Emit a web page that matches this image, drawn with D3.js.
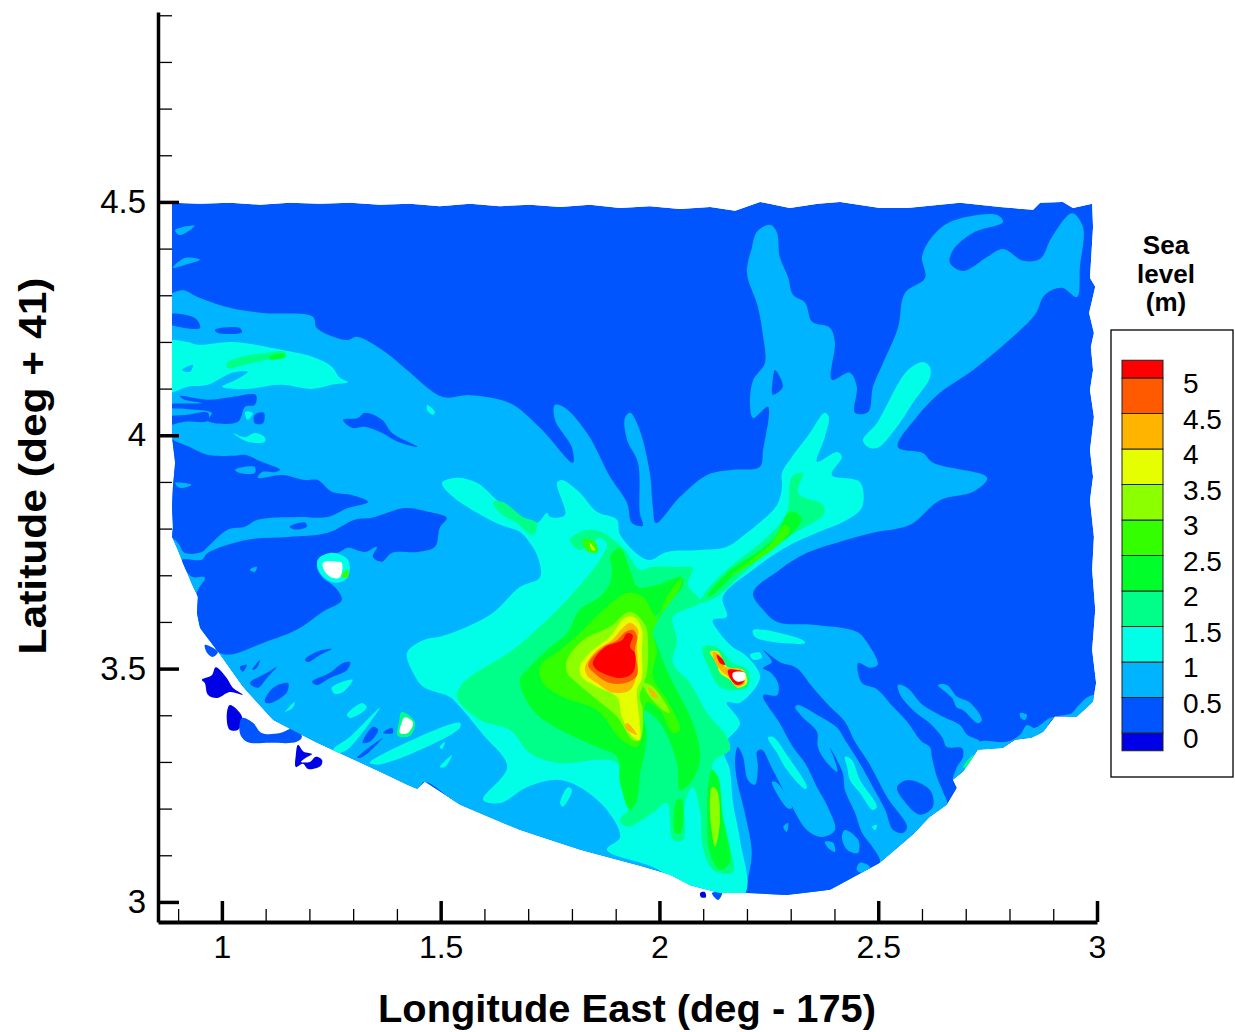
<!DOCTYPE html>
<html>
<head>
<meta charset="utf-8">
<style>
  html, body { margin: 0; padding: 0; background: #fff; }
  svg { display: block; font-family: "Liberation Sans", Arial, sans-serif; }
</style>
<script src="https://cdn.jsdelivr.net/npm/d3@7"></script>
</head>
<body>
<svg id="chart" width="1235" height="1032"></svg>
<script>
// sea level contour bands. rings are [lon, lat]
const legendLevels = [0, 0.5, 1, 1.5, 2, 2.5, 3, 3.5, 4, 4.5, 5];
const bandColors = ["#0000e6", "#0055ff", "#00b4ff", "#00ffe6", "#00ff88", "#00ff2a", "#33ff00", "#8cff00", "#e6ff00", "#ffb400", "#ff5a00", "#ff0000"];
const xMajor = [1, 1.5, 2, 2.5, 3];
const xMinor = [0.9, 1.1, 1.2, 1.3, 1.4, 1.6, 1.7, 1.8, 1.9, 2.1, 2.2, 2.3, 2.4, 2.6, 2.7, 2.8, 2.9];
const yMajor = [3, 3.5, 4, 4.5];
const yMinor = [3.1, 3.2, 3.3, 3.4, 3.6, 3.7, 3.8, 3.9, 4.1, 4.2, 4.3, 4.4, 4.6, 4.7, 4.8, 4.9];

// grid outline
const northEdge = [[.886,4.498],[.950,4.496],[1.018,4.498],[1.087,4.494],[1.155,4.498],[1.224,4.496],[1.293,4.498],[1.361,4.494],[1.430,4.496],[1.498,4.491],[1.567,4.496],[1.635,4.491],[1.704,4.494],[1.773,4.489],[1.841,4.494],[1.910,4.487],[1.978,4.491],[2.047,4.485],[2.116,4.489],[2.173,4.481],[2.230,4.500],[2.298,4.487],[2.362,4.496],[2.413,4.500],[2.504,4.487],[2.566,4.487],[2.687,4.498],[2.778,4.489],[2.854,4.483],[2.870,4.498],[2.922,4.500],[2.945,4.487],[2.989,4.496]];
const eastEdge = [[2.991,4.446],[2.984,4.337],[2.996,4.318],[2.982,4.262],[2.993,4.219],[2.986,4.189],[2.991,4.140],[2.984,4.097],[2.993,4.039],[2.984,3.968],[2.991,3.911],[2.984,3.861],[2.993,3.782],[2.989,3.712],[2.996,3.626],[2.989,3.540],[2.998,3.469],[2.991,3.429],[2.954,3.397],[2.904,3.397],[2.877,3.364],[2.851,3.352],[2.813,3.347],[2.785,3.330],[2.728,3.326],[2.694,3.279],[2.671,3.262],[2.680,3.244]];
const coast = [[2.657,3.208],[2.618,3.182],[2.579,3.144],[2.504,3.084],[2.465,3.064],[2.390,3.026],[2.291,3.015],[2.200,3.019],[2.138,3.019],[2.070,3.036],[2.024,3.058],[1.956,3.077],[1.818,3.112],[1.681,3.154],[1.544,3.208],[1.464,3.257],[1.446,3.242],[1.423,3.251],[1.368,3.276],[1.217,3.341],[1.117,3.390],[1.048,3.461],[.991,3.536],[.950,3.587],[.943,3.619],[.945,3.654],[.934,3.675],[.911,3.726],[.899,3.754],[.886,3.782],[.888,3.804],[.886,3.847],[.888,3.889],[.893,3.941],[.886,3.996]];
const spike = [[2.120,3.019],[2.134,3.004],[2.143,3.019]];

// 0.5-1 m, main body
const midNorth = [[.886,4.305],[.911,4.311],[.950,4.294],[1.018,4.273],[1.094,4.262],[1.208,4.254],[1.217,4.230],[1.286,4.204],[1.309,4.211],[1.377,4.176],[1.423,4.140],[1.505,4.082],[1.567,4.086],[1.658,4.069],[1.727,4.016],[1.802,3.941],[1.800,3.973],[1.761,4.033],[1.761,4.065],[1.784,4.059],[1.837,4.001],[1.887,3.911],[1.926,3.855],[1.937,3.812],[1.962,3.806],[1.955,3.834],[1.951,3.941],[1.926,3.990],[1.921,4.037],[1.933,4.048],[1.955,4.011],[1.978,3.919],[1.985,3.846],[1.992,3.812],[2.047,3.868],[2.109,3.915],[2.168,3.926],[2.229,3.932],[2.237,3.969],[2.248,4.061],[2.214,4.037],[2.207,4.069],[2.214,4.118],[2.241,4.155],[2.237,4.211],[2.225,4.275],[2.200,4.348],[2.211,4.401],[2.223,4.436],[2.252,4.451],[2.268,4.436],[2.275,4.382],[2.294,4.339],[2.305,4.301],[2.333,4.284],[2.349,4.243],[2.390,4.230],[2.401,4.198],[2.394,4.119],[2.435,4.134],[2.451,4.104],[2.447,4.048],[2.477,4.050],[2.488,4.104],[2.511,4.155],[2.545,4.230],[2.561,4.305],[2.607,4.337],[2.600,4.382],[2.618,4.419],[2.664,4.457],[2.772,4.472],[2.785,4.457],[2.717,4.434],[2.671,4.397],[2.664,4.369],[2.694,4.352],[2.749,4.382],[2.785,4.399],[2.831,4.374],[2.870,4.378],[2.897,4.425],[2.943,4.476],[2.968,4.446],[2.961,4.361],[2.954,4.296],[2.920,4.316],[2.881,4.301],[2.858,4.258],[2.794,4.200],[2.717,4.140],[2.641,4.091],[2.588,4.039],[2.545,3.975],[2.602,3.962],[2.625,3.941],[2.749,3.909],[2.717,3.879],[2.641,3.861],[2.573,3.808],[2.488,3.791],[2.413,3.772],[2.337,3.748],[2.275,3.712],[2.214,3.662],[2.237,3.626],[2.269,3.600],[2.351,3.594],[2.451,3.579],[2.474,3.557],[2.499,3.508],[2.481,3.502],[2.454,3.512],[2.463,3.469],[2.497,3.456],[2.534,3.418],[2.566,3.386],[2.600,3.343],[2.618,3.332],[2.623,3.309],[2.634,3.268],[2.648,3.236]];
const midWestEdge = [[.86,3.996],[.86,4.305]];

// 0-0.5 m patches laid over the main body
const lowFingers = [[2.237,3.540],[2.275,3.514],[2.314,3.501],[2.351,3.459],[2.390,3.418],[2.424,3.386],[2.447,3.343],[2.481,3.294],[2.520,3.225],[2.566,3.161],[2.557,3.148],[2.534,3.154],[2.516,3.197],[2.488,3.246],[2.458,3.297],[2.424,3.347],[2.406,3.373],[2.360,3.401],[2.317,3.422],[2.310,3.418],[2.326,3.397],[2.360,3.365],[2.362,3.332],[2.383,3.298],[2.406,3.279],[2.404,3.294],[2.390,3.330],[2.419,3.276],[2.424,3.240],[2.447,3.191],[2.463,3.148],[2.488,3.116],[2.504,3.086],[2.481,3.064],[2.451,3.047],[2.390,3.026],[2.291,3.015],[2.200,3.019],[2.200,3.036],[2.211,3.105],[2.195,3.191],[2.177,3.262],[2.173,3.305],[2.179,3.332],[2.191,3.311],[2.202,3.262],[2.218,3.251],[2.225,3.289],[2.223,3.322],[2.234,3.326],[2.259,3.283],[2.298,3.213],[2.337,3.154],[2.371,3.139],[2.401,3.154],[2.385,3.203],[2.360,3.246],[2.333,3.297],[2.305,3.332],[2.275,3.383],[2.237,3.443],[2.269,3.443],[2.271,3.469],[2.252,3.493],[2.237,3.501],[2.257,3.514]];
const lowSE = [[2.543,3.246],[2.566,3.261],[2.618,3.240],[2.625,3.204],[2.595,3.187],[2.557,3.219]];
const lowHole = [[2.264,4.140],[2.282,4.104],[2.259,4.087],[2.259,4.119]];
const lowA = [[.904,4.084],[.968,4.076],[1.023,4.082],[1.078,4.086],[1.075,4.065],[1.053,4.061],[1.037,4.029],[.968,4.031],[.977,4.048],[.922,4.056],[.87,4.061],[.87,4.065],[.954,4.069],[.915,4.076]];
const lowB = [[.87,4.037],[.922,4.044],[.968,4.048],[.968,4.031],[.915,4.029],[.87,4.022]];
const lowC = [[1.075,4.044],[1.096,4.048],[1.094,4.026],[1.075,4.026]];
const lowTop1 = [[.87,4.258],[.939,4.251],[.950,4.230],[.87,4.243]];
const lowTop2 = [[.984,4.226],[1.041,4.230],[1.046,4.221],[.991,4.219]];
const lowWest = [[.87,3.990],[.915,3.979],[.968,3.958],[1.023,3.956],[1.053,3.958],[1.091,3.943],[1.133,3.926],[1.121,3.921],[1.091,3.921],[1.082,3.909],[1.137,3.915],[1.190,3.904],[1.219,3.904],[1.251,3.879],[1.297,3.872],[1.334,3.857],[1.288,3.844],[1.242,3.825],[1.174,3.825],[1.082,3.819],[1.053,3.804],[1.014,3.798],[.968,3.761],[.954,3.750],[.915,3.748],[.899,3.770],[.87,3.798],[.87,3.847]];
const lowSouthWest = [[1.418,3.844],[1.471,3.836],[1.514,3.823],[1.498,3.802],[1.487,3.761],[1.448,3.750],[1.389,3.748],[1.366,3.729],[1.345,3.739],[1.354,3.761],[1.327,3.750],[1.288,3.759],[1.265,3.748],[1.224,3.739],[1.217,3.718],[1.229,3.696],[1.258,3.675],[1.274,3.647],[1.229,3.621],[1.171,3.583],[1.094,3.555],[1.018,3.530],[.991,3.536],[.943,3.604],[.943,3.663],[.961,3.695],[.931,3.697],[.909,3.733],[.954,3.733],[.968,3.748],[1.059,3.776],[1.151,3.782],[1.242,3.791],[1.304,3.819],[1.343,3.823]];
const lowStrip = [[1.155,3.804],[1.190,3.813],[1.194,3.804],[1.167,3.798]];
const lowLens = [[1.277,4.033],[1.311,4.037],[1.327,4.048],[1.366,4.033],[1.389,4.005],[1.448,3.975],[1.402,3.986],[1.366,4.005],[1.327,4.018],[1.297,4.016]];
const lowBits = [
  [[1.206,3.472],[1.247,3.491],[1.277,3.512],[1.293,3.514],[1.286,3.497],[1.247,3.480],[1.217,3.465]],
  [[1.064,3.469],[1.103,3.491],[1.126,3.504],[1.103,3.480],[1.082,3.459]],
  [[1.098,3.429],[1.117,3.459],[1.151,3.469],[1.149,3.450],[1.110,3.426]],
  [[1.190,3.519],[1.217,3.536],[1.251,3.542],[1.224,3.529],[1.197,3.514]],
  [[1.041,3.504],[1.057,3.508],[1.048,3.493]],
  [[1.069,3.497],[1.087,3.519],[1.080,3.502]],
  [[1.322,3.341],[1.345,3.375],[1.357,3.369],[1.338,3.343]],
  [[1.309,3.309],[1.368,3.352],[1.322,3.311]],
  [[1.368,3.362],[1.389,3.373],[1.391,3.362]]
];

// 0.5-1 m pieces on top of the low patches
const midStreak1 = [[2.545,3.465],[2.566,3.459],[2.602,3.422],[2.648,3.397],[2.687,3.379],[2.703,3.358],[2.733,3.343],[2.728,3.326],[2.710,3.289],[2.694,3.279],[2.671,3.262],[2.680,3.289],[2.694,3.311],[2.691,3.330],[2.657,3.332],[2.646,3.353],[2.618,3.383],[2.584,3.407],[2.550,3.444]];
const midStreak2 = [[2.637,3.465],[2.657,3.465],[2.680,3.440],[2.710,3.427],[2.737,3.390],[2.728,3.383],[2.694,3.411],[2.680,3.416],[2.669,3.437]];
const midCoast = [[2.733,3.343],[2.794,3.343],[2.824,3.358],[2.840,3.379],[2.858,3.373],[2.893,3.394],[2.943,3.405],[2.954,3.417],[2.979,3.439],[2.993,3.443],[2.991,3.429],[2.954,3.397],[2.904,3.397],[2.877,3.364],[2.851,3.352],[2.813,3.347],[2.785,3.330],[2.728,3.326]];
const midBits = [
  [[2.824,3.405],[2.840,3.401],[2.835,3.390],[2.826,3.394]],
  [[2.424,3.154],[2.454,3.133],[2.454,3.105],[2.429,3.112],[2.417,3.139]],
  [[2.458,3.084],[2.481,3.075],[2.465,3.062],[2.451,3.069]],
  [[2.257,3.257],[2.269,3.255],[2.303,3.202],[2.294,3.200]],
  [[2.283,3.161],[2.294,3.169],[2.291,3.150]],
  [[2.378,3.129],[2.397,3.127],[2.401,3.107],[2.385,3.116]],
  [[.893,4.440],[.938,4.449],[.904,4.429]],
  [[.888,4.359],[.915,4.380],[.950,4.376],[.915,4.365]],
  [[1.030,3.926],[1.075,3.932],[1.075,3.919],[1.041,3.919]],
  [[.893,3.898],[.931,3.894],[.904,3.887]],
  [[1.064,3.712],[1.080,3.718],[1.075,3.707]]
];

// 1-1.5 m
const cyanCentral = [[1.503,3.898],[1.537,3.909],[1.583,3.898],[1.629,3.861],[1.670,3.834],[1.720,3.812],[1.743,3.834],[1.750,3.825],[1.784,3.829],[1.766,3.898],[1.777,3.904],[1.818,3.877],[1.857,3.836],[1.903,3.819],[1.910,3.787],[1.974,3.733],[2.017,3.750],[2.093,3.754],[2.154,3.761],[2.200,3.791],[2.223,3.808],[2.269,3.851],[2.280,3.889],[2.280,3.919],[2.303,3.954],[2.344,4.005],[2.378,4.048],[2.387,4.039],[2.378,3.996],[2.360,3.943],[2.406,3.964],[2.417,3.954],[2.394,3.915],[2.458,3.900],[2.463,3.846],[2.429,3.819],[2.360,3.791],[2.291,3.761],[2.214,3.712],[2.145,3.654],[2.154,3.611],[2.122,3.604],[2.138,3.576],[2.168,3.546],[2.195,3.530],[2.230,3.482],[2.184,3.427],[2.154,3.427],[2.184,3.383],[2.145,3.332],[2.161,3.283],[2.168,3.213],[2.184,3.133],[2.195,3.019],[2.093,3.021],[1.985,3.075],[1.880,3.112],[1.910,3.139],[1.880,3.197],[1.818,3.246],[1.766,3.262],[1.697,3.246],[1.636,3.212],[1.597,3.219],[1.652,3.289],[1.597,3.358],[1.544,3.418],[1.521,3.439],[1.460,3.461],[1.437,3.491],[1.423,3.534],[1.460,3.561],[1.498,3.568],[1.544,3.583],[1.619,3.619],[1.681,3.675],[1.727,3.696],[1.722,3.739],[1.704,3.769],[1.681,3.793],[1.636,3.808],[1.583,3.834],[1.528,3.868]];
const cyanNW = [[.87,4.200],[.922,4.200],[.945,4.194],[1.023,4.200],[1.137,4.183],[1.213,4.166],[1.251,4.147],[1.270,4.123],[1.288,4.114],[1.251,4.108],[1.206,4.099],[1.137,4.108],[1.053,4.099],[1.000,4.104],[1.030,4.118],[1.059,4.136],[1.023,4.134],[.968,4.108],[.922,4.104],[.87,4.091]];
const cyanNE = [[2.602,4.157],[2.618,4.147],[2.618,4.123],[2.579,4.069],[2.543,4.018],[2.499,3.973],[2.477,3.975],[2.465,3.990],[2.497,4.026],[2.522,4.069],[2.550,4.118],[2.573,4.144]];
const midInCyan = [[.909,4.140],[.934,4.151],[.927,4.136]];
const cyanBits = [
  [[1.469,4.065],[1.487,4.050],[1.482,4.044],[1.469,4.054]],
  [[1.025,4.005],[1.053,3.996],[1.075,4.005],[1.098,3.996],[1.098,3.986],[1.059,3.986]],
  [[1.053,4.050],[1.071,4.048],[1.059,4.033]],
  [[1.254,3.326],[1.293,3.354],[1.361,3.416],[1.338,3.384],[1.286,3.326],[1.263,3.319]],
  [[1.338,3.298],[1.400,3.332],[1.544,3.384],[1.544,3.373],[1.437,3.319],[1.354,3.294]],
  [[1.251,3.459],[1.299,3.476],[1.277,3.450],[1.258,3.446]],
  [[1.286,3.401],[1.322,3.426],[1.331,3.416],[1.293,3.394]],
  [[1.144,3.407],[1.167,3.429],[1.162,3.416]],
  [[2.214,3.583],[2.328,3.561],[2.333,3.555],[2.259,3.557],[2.218,3.568]],
  [[2.207,3.530],[2.230,3.534],[2.234,3.523],[2.214,3.519]],
  [[2.248,3.352],[2.259,3.354],[2.294,3.311],[2.337,3.246],[2.333,3.242],[2.291,3.283],[2.269,3.319]],
  [[2.424,3.311],[2.440,3.304],[2.458,3.262],[2.497,3.204],[2.488,3.197],[2.458,3.234],[2.435,3.262],[2.429,3.289]],
  [[2.486,3.161],[2.497,3.165],[2.493,3.154]],
  [[1.219,3.733],[1.251,3.748],[1.288,3.733],[1.288,3.696],[1.258,3.684],[1.224,3.705]],
  [[1.773,3.212],[1.791,3.246],[1.800,3.240],[1.779,3.204]],
  [[1.498,3.289],[1.526,3.315],[1.510,3.289]],
  [[1.498,3.332],[1.510,3.343],[1.503,3.327]]
];

// 1.5-2 m
const seaMain = [[1.800,3.782],[1.834,3.797],[1.871,3.791],[1.894,3.776],[1.921,3.754],[1.955,3.712],[1.985,3.718],[2.047,3.718],[2.076,3.716],[2.065,3.679],[2.093,3.643],[2.031,3.611],[2.040,3.561],[2.031,3.512],[2.070,3.469],[2.109,3.405],[2.154,3.354],[2.161,3.326],[2.122,3.298],[2.138,3.212],[2.161,3.118],[2.168,3.063],[2.122,3.069],[2.099,3.118],[2.093,3.197],[2.076,3.246],[2.058,3.212],[2.054,3.133],[2.031,3.133],[2.017,3.212],[1.985,3.191],[1.926,3.161],[1.910,3.176],[1.933,3.204],[1.903,3.298],[1.766,3.298],[1.704,3.319],[1.658,3.369],[1.590,3.390],[1.537,3.439],[1.551,3.469],[1.665,3.540],[1.727,3.590],[1.795,3.654],[1.864,3.733],[1.880,3.769],[1.864,3.780],[1.818,3.754],[1.795,3.776]];
const seaArm = [[2.093,3.641],[2.109,3.669],[2.154,3.712],[2.246,3.782],[2.291,3.834],[2.303,3.911],[2.328,3.919],[2.317,3.876],[2.374,3.851],[2.374,3.829],[2.328,3.801],[2.282,3.776],[2.200,3.712],[2.131,3.654]];
const seaLeftArm = [[1.620,3.857],[1.642,3.857],[1.688,3.825],[1.720,3.812],[1.711,3.786],[1.674,3.812],[1.635,3.834]];
const seaSpot = [[2.099,3.546],[2.131,3.546],[2.168,3.512],[2.202,3.497],[2.202,3.461],[2.177,3.454],[2.138,3.461],[2.115,3.497]];
const seaNW = [[1.011,4.155],[1.053,4.170],[1.098,4.176],[1.144,4.179],[1.144,4.166],[1.098,4.161],[1.053,4.151],[1.014,4.144]];
const seaBits = [
  [[2.694,3.289],[2.717,3.315],[2.710,3.289]],
  [[1.411,3.407],[1.441,3.386],[1.430,3.356],[1.402,3.356],[1.405,3.386]]
];

// 2-2.5 m
const greenMain = [[1.887,3.739],[1.910,3.759],[1.933,3.712],[1.951,3.675],[1.994,3.679],[2.051,3.696],[2.054,3.679],[2.006,3.626],[1.974,3.590],[1.990,3.561],[2.017,3.497],[2.031,3.469],[2.076,3.384],[2.093,3.311],[2.076,3.262],[2.047,3.240],[2.040,3.298],[2.001,3.384],[1.962,3.411],[1.971,3.354],[1.955,3.268],[1.949,3.219],[1.933,3.197],[1.910,3.255],[1.903,3.311],[1.857,3.332],[1.773,3.369],[1.711,3.411],[1.681,3.476],[1.704,3.504],[1.750,3.546],[1.789,3.576],[1.818,3.626],[1.864,3.654],[1.887,3.684],[1.891,3.718]];
const greenStreak = [[2.120,3.283],[2.134,3.268],[2.145,3.182],[2.161,3.084],[2.138,3.069],[2.115,3.105],[2.109,3.204],[2.111,3.246]];
const greenFinger = [[2.040,3.219],[2.051,3.219],[2.049,3.148],[2.036,3.148]];
const greenArm = [[2.109,3.654],[2.154,3.705],[2.259,3.776],[2.298,3.836],[2.325,3.823],[2.305,3.791],[2.252,3.754],[2.184,3.712],[2.122,3.659]];
const greenNW = [[1.110,4.170],[1.144,4.174],[1.144,4.168],[1.110,4.163]];

// 2.5-3 m
const limeMain = [[1.864,3.619],[1.926,3.662],[1.962,3.654],[1.994,3.611],[2.017,3.654],[2.051,3.694],[2.047,3.673],[2.001,3.611],[1.985,3.576],[1.994,3.540],[1.985,3.482],[2.017,3.433],[2.047,3.369],[2.031,3.362],[2.001,3.411],[1.971,3.427],[1.962,3.362],[1.949,3.332],[1.914,3.347],[1.857,3.411],[1.779,3.439],[1.734,3.469],[1.727,3.504],[1.773,3.540],[1.818,3.576]];
const limeArm = [[2.252,3.765],[2.287,3.808],[2.298,3.797],[2.264,3.759],[2.154,3.694]];
const limeBlob = [[1.825,3.776],[1.853,3.772],[1.859,3.750],[1.837,3.750]];
const limeW1 = [[1.277,3.705],[1.288,3.712],[1.288,3.696],[1.274,3.696]];

// 3-3.5 m
const yellowGreen = [[1.789,3.519],[1.825,3.561],[1.887,3.590],[1.933,3.622],[1.967,3.594],[1.974,3.555],[1.971,3.491],[1.955,3.439],[1.962,3.411],[1.955,3.347],[1.939,3.347],[1.903,3.397],[1.857,3.433],[1.812,3.469],[1.789,3.491]];
const yellowGreenStreak1 = [[1.962,3.469],[1.985,3.461],[2.024,3.405],[2.008,3.411],[1.971,3.448]];
const yellowGreenStreak2 = [[2.120,3.246],[2.131,3.240],[2.138,3.169],[2.127,3.118],[2.120,3.148],[2.115,3.212]];

// 3.5-4 m
const yellowMain = [[1.818,3.504],[1.841,3.534],[1.887,3.568],[1.921,3.609],[1.944,3.609],[1.960,3.583],[1.960,3.540],[1.960,3.480],[1.949,3.454],[1.955,3.384],[1.955,3.347],[1.939,3.354],[1.914,3.397],[1.903,3.439],[1.857,3.461],[1.823,3.482]];
const yellowBlob = [[1.841,3.769],[1.853,3.754],[1.846,3.754]];
const yellowSpot = [[2.115,3.536],[2.134,3.536],[2.154,3.504],[2.191,3.497],[2.200,3.469],[2.179,3.459],[2.161,3.476],[2.138,3.491],[2.131,3.512]];

// 4-4.5 m
const amberMain = [[1.830,3.504],[1.857,3.540],[1.891,3.561],[1.916,3.587],[1.933,3.598],[1.951,3.583],[1.949,3.555],[1.949,3.491],[1.933,3.454],[1.894,3.448],[1.857,3.469],[1.834,3.486]];
const amberBit1 = [[1.926,3.384],[1.949,3.358],[1.937,3.362],[1.921,3.375]];
const amberBit2 = [[1.974,3.461],[1.997,3.439],[1.985,3.439]];
const amberSpot = [[2.122,3.536],[2.138,3.530],[2.150,3.504],[2.188,3.497],[2.195,3.469],[2.177,3.461],[2.161,3.480],[2.143,3.493],[2.127,3.514]];

// 4.5-5 m and above 5 m
const orangeMain = [[1.837,3.508],[1.871,3.546],[1.903,3.561],[1.921,3.578],[1.939,3.583],[1.949,3.568],[1.944,3.540],[1.949,3.486],[1.921,3.469],[1.887,3.469],[1.857,3.486]];
const redMain = [[1.848,3.514],[1.875,3.546],[1.914,3.561],[1.926,3.576],[1.939,3.572],[1.933,3.546],[1.944,3.533],[1.939,3.491],[1.914,3.480],[1.882,3.486],[1.853,3.501]];
const redSpot1 = [[2.131,3.530],[2.145,3.519],[2.150,3.508],[2.138,3.512]];
const redSpot2 = [[2.157,3.497],[2.177,3.497],[2.195,3.491],[2.191,3.469],[2.177,3.465],[2.161,3.480]];

// islands, below 0 m and 0-0.5 m
const islandA = [[.986,3.503],[1.011,3.480],[1.025,3.459],[1.048,3.444],[1.018,3.450],[.989,3.437],[.968,3.444],[.961,3.469],[.954,3.476],[.977,3.486]];
const islandB = [[.961,3.551],[.991,3.536],[.979,3.525],[.966,3.534]];
const islandC = [[1.018,3.422],[1.046,3.397],[1.037,3.369],[1.018,3.369],[1.011,3.397]];
const islandD = [[1.046,3.394],[1.071,3.384],[1.091,3.362],[1.133,3.362],[1.167,3.373],[1.183,3.354],[1.171,3.343],[1.110,3.341],[1.057,3.343],[1.041,3.362]];
const islandE = [[1.174,3.337],[1.187,3.322],[1.206,3.317],[1.192,3.309],[1.181,3.300],[1.201,3.300],[1.215,3.311],[1.229,3.304],[1.226,3.292],[1.197,3.285],[1.185,3.296],[1.169,3.289],[1.169,3.315]];
const islandF = [[2.093,3.019],[2.104,3.021],[2.106,3.010],[2.095,3.010]];

// holes in the grid
const holeWest = [[1.231,3.727],[1.263,3.729],[1.274,3.727],[1.270,3.696],[1.254,3.694],[1.236,3.707]];
const holeCoast = [[1.418,3.396],[1.437,3.384],[1.425,3.362],[1.407,3.362],[1.411,3.384]];
const holeSpot = [[2.168,3.491],[2.195,3.491],[2.195,3.476],[2.179,3.472],[2.168,3.480]];

const svg = d3.select("#chart");

const x = d3.scaleLinear().domain([0.854, 3]).range([158, 1097]);
const y = d3.scaleLinear().domain([2.957, 4.907]).range([922, 12]);

const ring = d3.line().x(d => x(d[0])).y(d => y(d[1])).curve(d3.curveCatmullRomClosed.alpha(0.5));
const outline = d3.line().x(d => x(d[0])).y(d => y(d[1])).curve(d3.curveLinearClosed);
const gridRing = northEdge.concat(eastEdge, coast);

svg.append("clipPath").attr("id", "grid-clip").append("path").attr("d", outline(gridRing));

const outside = svg.append("g");
const plot = svg.append("g").attr("class", "plot-area").attr("clip-path", "url(#grid-clip)");

function band(g, rings, i) {
  g.selectAll(null).data(rings).join("path")
    .attr("d", ring)
    .attr("fill", i < 0 ? "#fff" : bandColors[i]);
}

band(outside, [islandA, islandC, islandE, islandF], 0);
band(outside, [islandB, islandD, spike], 1);
plot.append("path").attr("fill", bandColors[1]).attr("d", outline(gridRing));
band(plot, [midNorth.concat(coast, midWestEdge)], 2);
band(plot, [lowFingers, lowSE, lowHole, lowA, lowB, lowC, lowTop1, lowTop2, lowWest, lowSouthWest, lowStrip, lowLens].concat(lowBits), 1);
band(plot, [midStreak1, midStreak2, midCoast].concat(midBits), 2);
band(plot, [cyanCentral, cyanNW, cyanNE].concat(cyanBits), 3);
band(plot, [midInCyan], 2);
band(plot, [seaMain, seaArm, seaLeftArm, seaSpot, seaNW].concat(seaBits), 4);
band(plot, [greenMain, greenStreak, greenFinger, greenArm, greenNW], 5);
band(plot, [limeMain, limeArm, limeBlob, limeW1], 6);
band(plot, [yellowGreen, yellowGreenStreak1, yellowGreenStreak2], 7);
band(plot, [yellowMain, yellowBlob, yellowSpot], 8);
band(plot, [amberMain, amberBit1, amberBit2, amberSpot], 9);
band(plot, [orangeMain], 10);
band(plot, [redMain, redSpot1, redSpot2], 11);
band(plot, [holeWest, holeCoast, holeSpot], -1);

// axes
const xAxisG = svg.append("g").attr("transform", "translate(0,922)");
const yAxisG = svg.append("g").attr("transform", "translate(158,0)");

xAxisG.append("g").call(d3.axisBottom(x).tickValues(xMinor).tickSize(-13).tickFormat(""))
  .call(g => g.select(".domain").remove())
  .selectAll("line").attr("stroke-width", 1.3);
xAxisG.append("g").call(d3.axisBottom(x).tickValues(xMajor).tickSizeInner(-21).tickSizeOuter(0).tickPadding(13).tickFormat(d => d))
  .call(g => g.select(".domain").attr("stroke-width", 4))
  .call(g => g.selectAll("line").attr("stroke-width", 3.5))
  .call(g => g.selectAll("text").attr("font-size", 32).attr("fill", "#000"))
  .attr("font-family", null);

yAxisG.append("g").call(d3.axisLeft(y).tickValues(yMinor).tickSize(-14).tickFormat(""))
  .call(g => g.select(".domain").remove())
  .selectAll("line").attr("stroke-width", 1.3);
yAxisG.append("g").call(d3.axisLeft(y).tickValues(yMajor).tickSizeInner(-21).tickSizeOuter(0).tickPadding(12).tickFormat(d => d))
  .call(g => g.select(".domain").attr("stroke-width", 3.5))
  .call(g => g.selectAll("line").attr("stroke-width", 3.5))
  .call(g => g.selectAll("text").attr("font-size", 33).attr("fill", "#000"))
  .attr("font-family", null);

svg.append("text").attr("x", 627).attr("y", 1022).attr("text-anchor", "middle")
  .attr("font-size", 39).attr("font-weight", "bold")
  .attr("textLength", 498).attr("lengthAdjust", "spacingAndGlyphs")
  .text("Longitude East (deg - 175)");
svg.append("text").attr("transform", "translate(46,466) rotate(-90)").attr("text-anchor", "middle")
  .attr("font-size", 39).attr("font-weight", "bold")
  .attr("textLength", 377).attr("lengthAdjust", "spacingAndGlyphs")
  .text("Latitude (deg + 41)");

// legend
const legendY = d3.scaleLinear().domain([0, 5]).range([733, 378]);
const legendEdges = [-0.25].concat(legendLevels, [5.25]);
const legend = svg.append("g");

legend.append("rect").attr("x", 1111).attr("y", 330).attr("width", 122).attr("height", 447)
  .attr("fill", "#fff").attr("stroke", "#000").attr("stroke-width", 1.3);
legend.selectAll(".swatch").data(bandColors).join("rect")
  .attr("class", "swatch")
  .attr("x", 1122).attr("width", 41)
  .attr("y", (d, i) => legendY(legendEdges[i + 1]))
  .attr("height", (d, i) => legendY(legendEdges[i]) - legendY(legendEdges[i + 1]))
  .attr("fill", d => d).attr("stroke", "#222").attr("stroke-width", 1);
legend.selectAll(".level").data(legendLevels).join("text")
  .attr("class", "level")
  .attr("x", 1183).attr("y", d => legendY(d)).attr("dy", "0.55em")
  .attr("font-size", 28).attr("fill", "#000")
  .text(d => d);
legend.selectAll(".title").data(["Sea", "level", "(m)"]).join("text")
  .attr("class", "title")
  .attr("x", 1166).attr("y", (d, i) => 254 + i * 28.5)
  .attr("text-anchor", "middle").attr("font-size", 26).attr("font-weight", "bold")
  .text(d => d);
</script>
</body>
</html>
